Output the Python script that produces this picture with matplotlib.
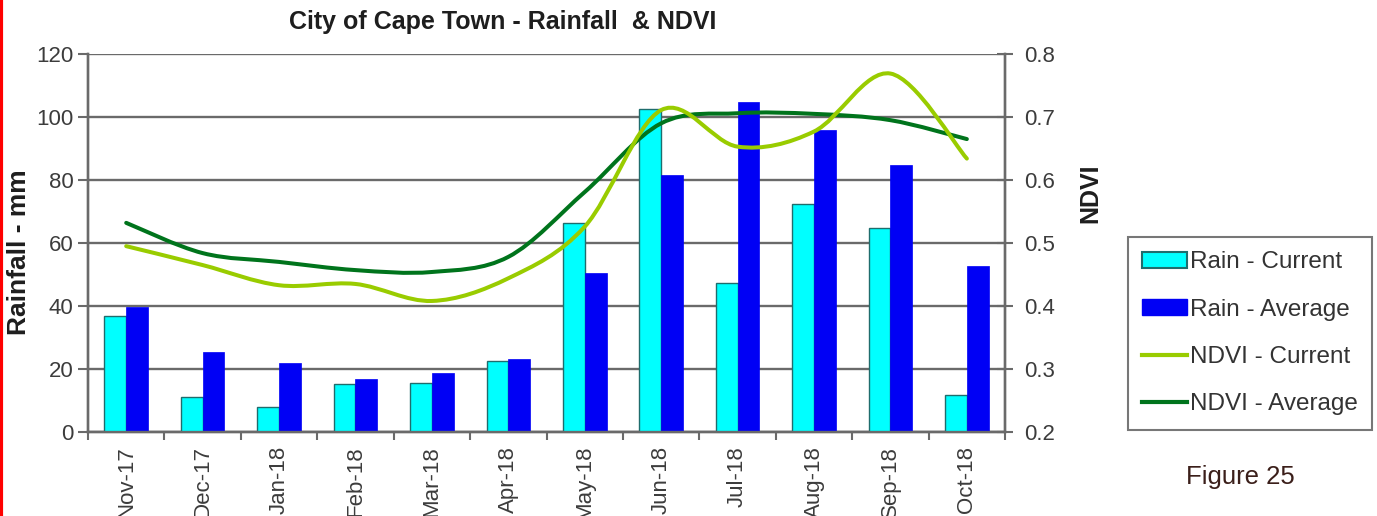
import numpy as np
import matplotlib
matplotlib.use('Agg')
import matplotlib.pyplot as plt
from matplotlib.path import Path
from matplotlib.patches import PathPatch, Patch
from matplotlib.lines import Line2D

plt.rcParams['font.family'] = ['Liberation Sans', 'DejaVu Sans']

# Data
months = ['Nov-17', 'Dec-17', 'Jan-18', 'Feb-18', 'Mar-18', 'Apr-18',
          'May-18', 'Jun-18', 'Jul-18', 'Aug-18', 'Sep-18', 'Oct-18']
rain_current = [36.9, 11.2, 7.8, 15.2, 15.7, 22.5, 66.3, 102.4, 47.2, 72.3, 64.9, 11.7]
rain_average = [39.8, 25.5, 21.8, 16.7, 18.8, 23.2, 50.4, 81.6, 104.7, 95.9, 84.8, 52.8]
ndvi_current = [0.495, 0.465, 0.433, 0.435, 0.408, 0.444, 0.526, 0.711, 0.653, 0.677, 0.769, 0.634]
ndvi_average = [0.532, 0.484, 0.470, 0.457, 0.454, 0.478, 0.581, 0.690, 0.706, 0.705, 0.695, 0.665]

cyan = '#00ffff'
blue = '#0000f5'
light_green = '#99cc00'
dark_green = '#00741c'
grey = '#6a6a6a'
tick_col = '#3c3c3c'


def smooth_path(xs, ys):
    # Excel-style smoothed line: cubic Bezier segments through each point
    pts = np.column_stack([xs, ys]).astype(float)
    n = len(pts)
    verts = [pts[0]]
    codes = [Path.MOVETO]
    for i in range(n - 1):
        p0 = pts[i - 1] if i > 0 else pts[i]
        p3 = pts[i + 2] if i + 2 < n else pts[i + 1]
        c1 = pts[i] + (pts[i + 1] - p0) / 6
        c2 = pts[i + 1] - (p3 - pts[i]) / 6
        verts += [c1, c2, pts[i + 1]]
        codes += [Path.CURVE4] * 3
    return Path(verts, codes)


fig = plt.figure(figsize=(13.77, 5.16), dpi=100)
ax = fig.add_axes([0.0639, 0.1628, 0.666, 0.7325])
ax2 = ax.twinx()

x = np.arange(len(months))
w = 0.285
bars1 = ax.bar(x - w / 2, rain_current, w, color=cyan, edgecolor='#1f6d6d', linewidth=1.0, zorder=3)
bars2 = ax.bar(x + w / 2, rain_average, w, color=blue, edgecolor=blue, linewidth=0.5, zorder=3)

ax.set_xlim(-0.5, len(months) - 0.5)
ax.set_ylim(0, 120)
ax.set_yticks(np.arange(0, 121, 20))
ax.set_axisbelow(True)
ax.yaxis.grid(True, color=grey, linewidth=1.7)

ax2.set_ylim(0.2, 0.8)
ax2.set_yticks(np.arange(0.2, 0.81, 0.1))
ax2.set_yticklabels([f'{v:.1f}' for v in np.arange(0.2, 0.81, 0.1)])

for line_vals, col in [(ndvi_average, dark_green), (ndvi_current, light_green)]:
    ax2.add_patch(PathPatch(smooth_path(x, line_vals), facecolor='none', edgecolor=col,
                            linewidth=2.9, capstyle='round', zorder=4))

# x axis: labels at centres, small ticks at the category boundaries
ax.set_xticks(x)
ax.set_xticklabels(months, rotation=90, fontsize=16, color=tick_col)
ax.tick_params(axis='x', which='major', length=0, pad=10)
ax.set_xticks(np.arange(-0.5, len(months), 1), minor=True)
ax.tick_params(axis='x', which='minor', length=6, width=1.5, color=grey, direction='out')

ax.tick_params(axis='y', labelsize=16, labelcolor=tick_col, length=7, width=1.5, color=grey, direction='out')
ax2.tick_params(axis='y', labelsize=16, labelcolor=tick_col, length=12, width=1.5, color=grey,
                direction='inout', pad=8)

for a in (ax, ax2):
    a.spines['top'].set_visible(False)
    for s in ('left', 'right', 'bottom'):
        a.spines[s].set_color(grey)
        a.spines[s].set_linewidth(1.7)

ax.set_ylabel('Rainfall - mm', fontsize=19, fontweight='bold', color='#1e1e1e', va='center')
ax.yaxis.set_label_coords(-0.075, 0.476)
ax2.set_ylabel('NDVI', fontsize=18, fontweight='bold', color='#1e1e1e', va='center')
ax2.yaxis.set_label_coords(1.093, 0.632)

fig.text(0.365, 0.957, 'City of Cape Town - Rainfall  & NDVI', ha='center', va='center',
         fontsize=18, fontweight='bold', color='#1e1e1e')

handles = [Patch(facecolor=cyan, edgecolor='#1f6d6d', linewidth=1.5),
           Patch(facecolor=blue, edgecolor=blue),
           Line2D([], [], color=light_green, linewidth=3),
           Line2D([], [], color=dark_green, linewidth=3)]
labels = ['Rain - Current', 'Rain - Average', 'NDVI - Current', 'NDVI - Average']
leg = fig.legend(handles, labels, loc='upper left', bbox_to_anchor=(0.819, 0.541),
                 fontsize=17.5, frameon=True, fancybox=False, edgecolor='#555555',
                 handlelength=1.85, handletextpad=0.1, labelspacing=1.04, borderpad=0.6,
                 borderaxespad=0, handleheight=0.6)
leg.get_frame().set_linewidth(1.5)
for t in leg.get_texts():
    t.set_color('#333333')

fig.text(0.901, 0.075, 'Figure 25', ha='center', va='center', fontsize=18.5, color='#3b1f1a')

# red page margin line at the far left
fig.add_artist(Line2D([0.001, 0.001], [0, 1], transform=fig.transFigure, color='#ff0000', linewidth=3))

fig.savefig('out.png', dpi=100)
